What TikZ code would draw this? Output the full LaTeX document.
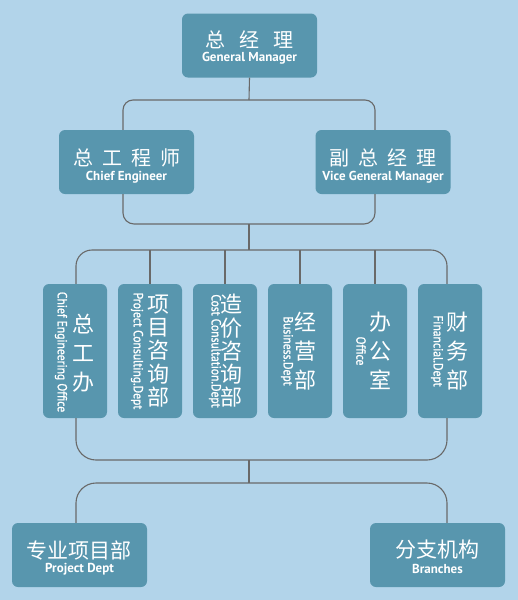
\documentclass[tikz,border=0pt]{standalone}
\usepackage{fontspec}
\setmainfont{PT Sans}
\newfontfamily\cjk{Noto Sans CJK SC}
\newfontfamily\narrowsans[FakeStretch=0.88, FakeBold=1.2]{PT Sans}
\usetikzlibrary{positioning, calc}
\definecolor{bgblue}{RGB}{178, 212, 234}
\definecolor{boxteal}{RGB}{88, 150, 174}
\definecolor{linkgray}{RGB}{105, 105, 105}
\newcommand{\tgap}{\hspace{9pt}}

\begin{document}
\begin{tikzpicture}[x=1pt, y=1pt,
    box/.style={fill=boxteal, rounded corners=6pt, inner sep=0pt},
    wide/.style={box, minimum width=135pt, minimum height=64pt},
    tall/.style={box, minimum width=64pt, minimum height=134pt},
    title/.style={text=white, inner sep=0pt, font=\cjk\fontsize{20}{22}\selectfont},
    sub/.style={text=white, inner sep=0pt, font=\bfseries\fontsize{13}{14}\selectfont},
    vcn/.style={text=white, inner sep=0pt, align=center, font=\cjk\fontsize{22}{29}\selectfont},
    vcntight/.style={vcn, font=\cjk\fontsize{22}{23.3}\selectfont},
    ven/.style={text=white, inner sep=0pt, rotate=-90, font=\narrowsans\fontsize{13.2}{14}\selectfont},
    link/.style={draw=linkgray, line width=1.1pt}]

    \fill[bgblue] (0,0) rectangle (518,-600);

    % top
    \node[wide] (gm) at (249.5,-45.5) {};
    \node[title] (gm-cn) at ($(gm)+(0,6)$) {总\hspace{14pt}经\hspace{14pt}理};
    \node[sub] (gm-en) at ($(gm)+(0,-13)$) {General Manager};

    % second row
    \node[wide] (ce) at (126.5,-162) {};
    \node[title] (ce-cn) at ($(ce)+(0,4)$) {总\tgap 工\tgap 程\tgap 师};
    \node[sub] (ce-en) at ($(ce)+(0,-15)$) {Chief Engineer};

    \node[wide] (vgm) at (383,-162) {};
    \node[title] (vgm-cn) at ($(vgm)+(0,4)$) {副\tgap 总\tgap 经\tgap 理};
    \node[sub] (vgm-en) at ($(vgm)+(0,-15)$) {Vice General Manager};

    % departments
    \node[tall] (d1) at (75,-351) {};
    \node[vcn] (d1-cn) at ($(d1)+(8,-2)$) {总\\工\\办};
    \node[ven] (d1-en) at ($(d1)+(-14,-1)$) {Chief Engineering Office};

    \node[tall] (d2) at (150,-351) {};
    \node[vcntight] (d2-cn) at ($(d2)+(8,0)$) {项\\目\\咨\\询\\部};
    \node[ven] (d2-en) at ($(d2)+(-13,0)$) {Project Consulting.Dept};

    \node[tall] (d3) at (225,-351) {};
    \node[vcntight] (d3-cn) at ($(d3)+(6,0)$) {造\\价\\咨\\询\\部};
    \node[ven] (d3-en) at ($(d3)+(-10,0)$) {Cost Consultation.Dept};

    \node[tall] (d4) at (300,-351) {};
    \node[vcn] (d4-cn) at ($(d4)+(5,0)$) {经\\营\\部};
    \node[ven] (d4-en) at ($(d4)+(-13,0)$) {Business.Dept};

    \node[tall] (d5) at (375,-351) {};
    \node[vcn] (d5-cn) at ($(d5)+(5,0)$) {办\\公\\室};
    \node[ven] (d5-en) at ($(d5)+(-14,0)$) {Office};

    \node[tall] (d6) at (450,-351) {};
    \node[vcn] (d6-cn) at ($(d6)+(7,0)$) {财\\务\\部};
    \node[ven] (d6-en) at ($(d6)+(-13,0)$) {Financial.Dept};

    % bottom row
    \node[wide] (pd) at (79.5,-555) {};
    \node[title] (pd-cn) at ($(pd)+(0,5)$) {\fontsize{21}{22}\selectfont 专业项目部};
    \node[sub] (pd-en) at ($(pd)+(0,-14)$) {Project Dept};

    \node[wide] (br) at (437.5,-555) {};
    \node[title] (br-cn) at ($(br)+(0,5)$) {\fontsize{21}{22}\selectfont 分支机构};
    \node[sub] (br-en) at ($(br)+(0,-14)$) {Branches};

    % junctions
    \coordinate (j1) at (249,-100);
    \coordinate (j2) at (249,-224);
    \coordinate (j3) at (249,-250);
    \coordinate (j4) at (249,-460);
    \coordinate (j5) at (249,-483);

    % connectors
    \draw[link] (gm.south) -- (j1);
    \draw[link, rounded corners=10pt] ([xshift=-3.5pt]ce.north) |- (j1) -| ([xshift=-8pt]vgm.north);
    \draw[link, rounded corners=11pt] ([xshift=-3.5pt]ce.south) |- (j2) -| ([xshift=-8pt]vgm.south);
    \draw[link] (j2) -- (j3);
    \draw[link, rounded corners=16pt] ([xshift=1pt]d1.north) |- (j3) -| ([xshift=-3pt]d6.north);
    \foreach \d in {d2, d3, d4, d5}
        \draw[link] (\d.north) -- (\d.north |- j3);
    \draw[link, rounded corners=20pt] ([xshift=1pt]d1.south) |- (j4) -| ([xshift=-3pt]d6.south);
    \draw[link] (j4) -- (j5);
    \draw[link, rounded corners=20pt] ([xshift=-3.5pt]pd.north) |- (j5) -| ([xshift=9.5pt]br.north);
\end{tikzpicture}
\end{document}
